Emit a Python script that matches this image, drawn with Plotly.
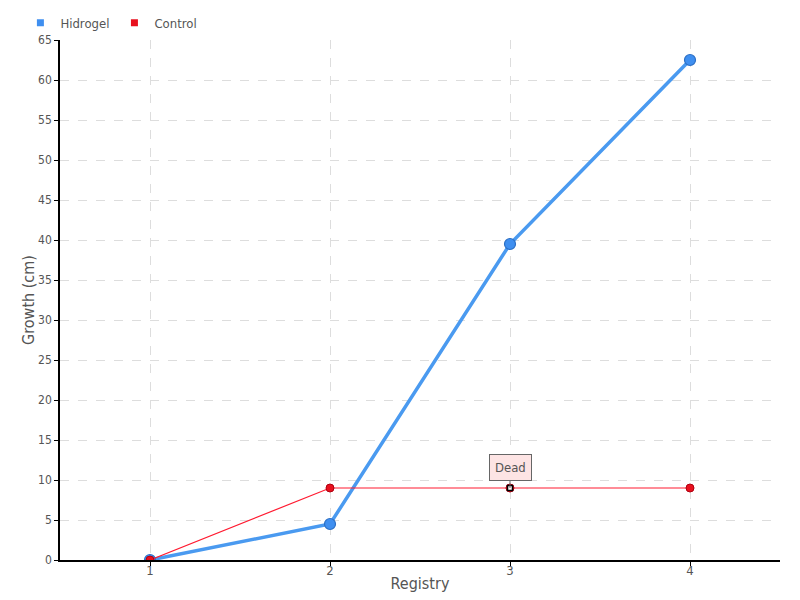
import plotly.graph_objects as go

registry = [1, 2, 3, 4]
hidrogel = [0, 4.5, 39.5, 62.5]
control = [0, 9, 9, 9]
dead_point = (3, 9)

blue = "#3f8ff0"
red = "#e8101e"
font_family = "DejaVu Sans Condensed, Liberation Sans Narrow, sans-serif"

fig = go.Figure()

fig.add_trace(go.Scatter(
    x=registry, y=hidrogel, name="Hidrogel", mode="lines+markers", showlegend=False,
    line=dict(color="#4a9af0", width=3.5),
    marker=dict(size=11, color=blue, line=dict(color="#2c6fc4", width=1.2)),
))
fig.add_trace(go.Scatter(
    x=registry, y=control, name="Control", mode="lines+markers", showlegend=False,
    line=dict(color="#ff1a30", width=1.2),
    marker=dict(size=8, color=red, line=dict(color="#b00010", width=1)),
))
# marker for the dead plant
fig.add_trace(go.Scatter(
    x=[dead_point[0]], y=[dead_point[1]], mode="markers", showlegend=False,
    marker=dict(symbol="square", size=5, color="white", line=dict(color="black", width=1.5)),
    hoverinfo="skip",
))
# legend entries with square swatches
for name, col in [("Hidrogel", blue), ("Control", red)]:
    fig.add_trace(go.Scatter(
        x=[None], y=[None], name=name, mode="markers",
        marker=dict(symbol="square", size=7, color=col),
    ))

fig.add_annotation(
    x=dead_point[0], y=dead_point[1], text="Dead", showarrow=True,
    arrowhead=0, arrowwidth=1, arrowcolor="#666", ax=0, ay=-21,
    bgcolor="#fde4e4", bordercolor="#666", borderwidth=1, borderpad=5,
    font=dict(family=font_family, size=13, color="#555"),
)

# page body adds an 8px offset, so the figure is a bit smaller than the window
fig.update_layout(
    width=792, height=592,
    paper_bgcolor="white", plot_bgcolor="white",
    margin=dict(l=52, r=20, t=32, b=40, autoexpand=False),
    font=dict(family=font_family, size=13, color="#555"),
    legend=dict(orientation="h", x=-0.055, y=1.062, xanchor="left", yanchor="top",
                itemwidth=30, tracegroupgap=0, font=dict(size=13),
                bgcolor="rgba(0,0,0,0)"),
    showlegend=True,
)
fig.update_xaxes(
    range=[0.5, 4.5], tickvals=registry, title=dict(text="Registry", standoff=0),
    showline=True, linecolor="black", linewidth=1.5, ticks="outside", ticklen=4,
    tickcolor="black", showgrid=True, gridcolor="#ddd", griddash="dash",
    zeroline=False, automargin=False, ticklabelstandoff=-6,
)
fig.update_yaxes(
    range=[0, 65], dtick=5, title=dict(text="Growth (cm)", standoff=0),
    showline=True, linecolor="black", linewidth=1.5, ticks="outside", ticklen=4,
    tickcolor="black", showgrid=True, gridcolor="#ddd", griddash="dash",
    zeroline=False, automargin=False, tickfont=dict(size=12),
)

fig.write_html("out.html")
